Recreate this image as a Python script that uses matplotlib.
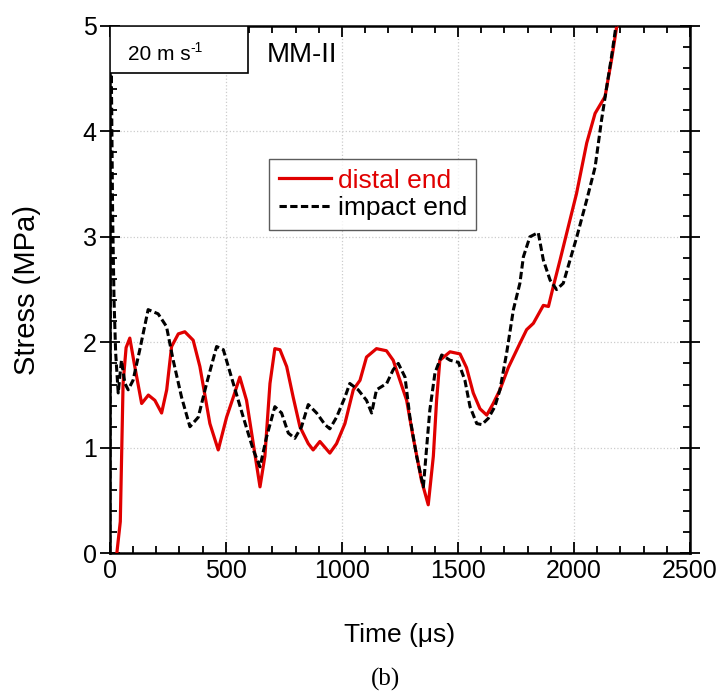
import matplotlib
matplotlib.use("Agg")
import matplotlib.pyplot as plt
from matplotlib.patches import Rectangle
from matplotlib.ticker import MultipleLocator

plt.rcParams["font.family"] = ["Liberation Sans", "DejaVu Sans"]

# distal end (red)
t_distal = [30, 45, 57, 70, 86, 105, 137, 166, 194, 223, 245, 266, 295, 323, 359, 388, 431,
            467, 503, 532, 560, 589, 618, 647, 668, 690, 711, 733, 762, 790, 819, 855, 876,
            905, 948, 977, 1013, 1049, 1078, 1106, 1149, 1192, 1221, 1250, 1279, 1307, 1343,
            1372, 1394, 1408, 1422, 1466, 1509, 1537, 1566, 1595, 1624, 1652, 1681, 1717,
            1767, 1796, 1825, 1868, 1890, 1911, 1940, 1976, 2011, 2055, 2091, 2134, 2162,
            2184, 2200]
s_distal = [0.0, 0.3, 1.61, 1.95, 2.04, 1.8, 1.42, 1.50, 1.45, 1.33, 1.55, 1.96, 2.08, 2.10,
            2.02, 1.77, 1.23, 0.98, 1.29, 1.48, 1.67, 1.45, 1.04, 0.63, 0.92, 1.61, 1.94,
            1.93, 1.77, 1.48, 1.20, 1.04, 0.98, 1.06, 0.95, 1.04, 1.23, 1.55, 1.64, 1.86,
            1.94, 1.92, 1.83, 1.64, 1.45, 1.10, 0.69, 0.46, 0.92, 1.45, 1.83, 1.91, 1.89,
            1.76, 1.52, 1.37, 1.31, 1.42, 1.55, 1.76, 1.99, 2.12, 2.18, 2.35, 2.34, 2.53,
            2.78, 3.10, 3.41, 3.89, 4.17, 4.33, 4.68, 4.99, 5.2]

# impact end (black dashed)
t_impact = [0, 4, 8, 12, 18, 25, 36, 50, 65, 79, 100, 129, 165, 208, 244, 273, 309, 345,
            381, 417, 460, 489, 532, 575, 618, 647, 675, 711, 740, 769, 797, 826, 855, 891,
            927, 948, 977, 1013, 1034, 1070, 1106, 1128, 1149, 1193, 1221, 1243, 1272, 1293,
            1322, 1351, 1365, 1379, 1401, 1430, 1466, 1502, 1530, 1552, 1581, 1603, 1631,
            1659, 1681, 1710, 1739, 1767, 1782, 1810, 1846, 1868, 1897, 1925, 1954, 1983,
            2011, 2055, 2091, 2119, 2141, 2162, 2181, 2195]
s_impact = [0.0, 5.0, 4.2, 3.2, 2.4, 1.9, 1.52, 1.83, 1.61, 1.55, 1.64, 1.93, 2.31, 2.27,
            2.15, 1.83, 1.48, 1.20, 1.29, 1.61, 1.96, 1.93, 1.61, 1.29, 0.98, 0.82, 1.10,
            1.39, 1.33, 1.14, 1.09, 1.20, 1.41, 1.33, 1.22, 1.18, 1.29, 1.48, 1.61, 1.55,
            1.45, 1.33, 1.55, 1.61, 1.74, 1.80, 1.67, 1.29, 0.92, 0.63, 1.0, 1.36, 1.71,
            1.88, 1.83, 1.81, 1.64, 1.39, 1.23, 1.22, 1.28, 1.39, 1.55, 1.90, 2.31, 2.56,
            2.81, 3.0, 3.04, 2.78, 2.59, 2.50, 2.56, 2.78, 2.99, 3.35, 3.66, 4.11, 4.42,
            4.71, 5.0, 5.2]

fig = plt.figure(figsize=(7.18, 6.92), dpi=100)
ax = fig.add_axes([0.153, 0.2004, 0.808, 0.7623])

ax.plot(t_distal, s_distal, color="#e00000", lw=2.3, label="distal end", zorder=3)
ax.plot(t_impact, s_impact, color="black", lw=2.2, ls=(0, (2.4, 1.1)),
        label="impact end", zorder=4)

ax.set_xlim(0, 2500)
ax.set_ylim(0, 5)
ax.xaxis.set_major_locator(MultipleLocator(500))
ax.xaxis.set_minor_locator(MultipleLocator(100))
ax.yaxis.set_major_locator(MultipleLocator(1))
ax.yaxis.set_minor_locator(MultipleLocator(0.2))
ax.tick_params(which="both", top=True, right=True, labelsize=18, width=1.3)
ax.tick_params(axis="x", which="major", direction="in", length=8, pad=4)
ax.tick_params(axis="y", which="major", direction="inout", length=15, pad=2)
ax.tick_params(which="minor", direction="in", length=5)
ax.grid(True, which="major", color="#cccccc", ls=":", lw=0.9)
for sp in ax.spines.values():
    sp.set_linewidth(1.8)

ax.set_xlabel("Time (\u03bcs)", fontsize=19, labelpad=29)
ax.set_ylabel("Stress (MPa)", fontsize=21, labelpad=30)

leg = ax.legend(loc="upper left", bbox_to_anchor=(0.275, 0.747), fontsize=19,
                frameon=True, fancybox=False, edgecolor="#333333", handlelength=2.0,
                borderpad=0.35, labelspacing=0.15, handletextpad=0.25, borderaxespad=0)
leg.get_frame().set_linewidth(1.0)
leg.get_texts()[0].set_color("#e00000")

# speed box in the upper-left corner
ax.add_patch(Rectangle((0, 0.9105), 0.238, 0.0895, transform=ax.transAxes,
                       fc="white", ec="black", lw=1.2, zorder=6))
ax.text(0.031, 0.946, "20 m s", transform=ax.transAxes, fontsize=15,
        ha="left", va="center", zorder=7)
ax.text(0.1395, 0.971, "-1", transform=ax.transAxes, fontsize=10,
        ha="left", va="top", zorder=7)
ax.text(0.271, 0.945, "MM-II", transform=ax.transAxes, fontsize=20,
        ha="left", va="center")

fig.text(0.537, 0.002, "(b)", family=["Liberation Serif", "DejaVu Serif"],
         fontsize=18, ha="center", va="bottom")

fig.savefig("out.png", dpi=100)
